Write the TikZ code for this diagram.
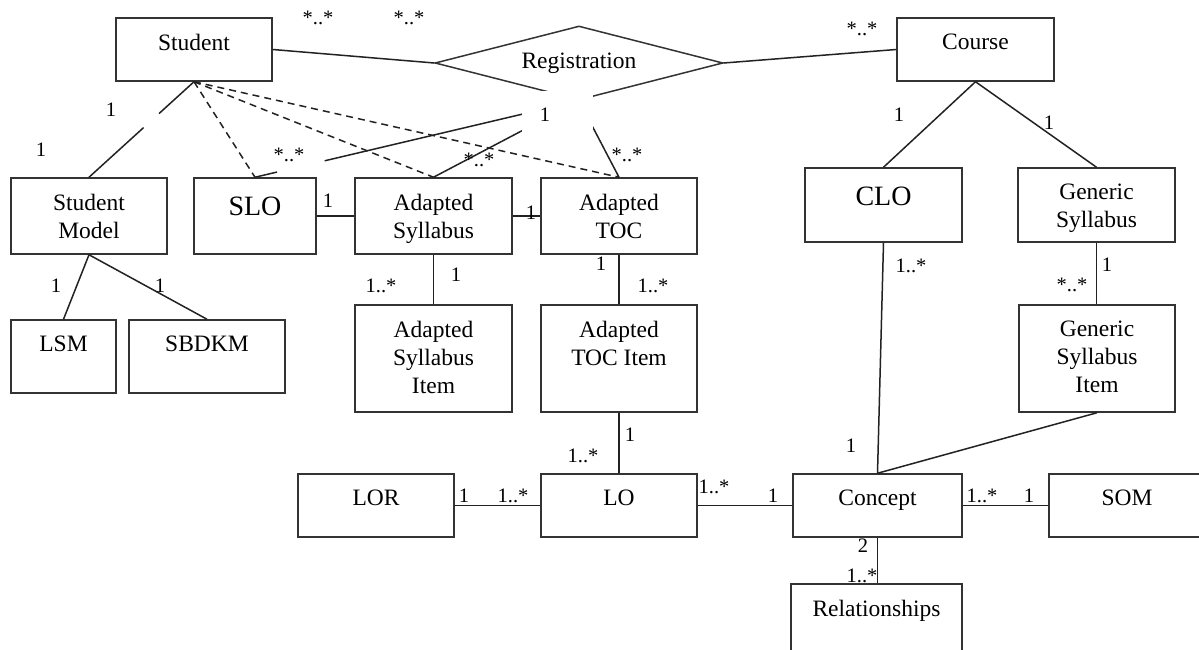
\documentclass[tikz,border=0pt]{standalone}
\usepackage{fontspec}
\setmainfont{Liberation Serif}
\usetikzlibrary{shapes.geometric,calc}
\definecolor{boxc}{HTML}{333333}
\definecolor{linec}{HTML}{222222}
\begin{document}
\begin{tikzpicture}[x=1pt,y=-1pt,
  box/.style 2 args={draw=boxc, line width=1.5pt, rectangle, inner sep=0pt,
    minimum width=#1pt, minimum height=#2pt},
  ttl/.style={anchor=north, yshift=-16.5pt, align=center, inner sep=0pt,
    font=\fontsize{23.5}{28}\selectfont},
  bigttl/.style={anchor=north, yshift=-19.5pt, align=center, inner sep=0pt,
    font=\fontsize{28}{32}\selectfont},
  mult/.style={font=\fontsize{20.5}{22}\selectfont, inner sep=0pt},
  link/.style={line width=1.5pt, draw=linec},
  dep/.style={link, dash pattern=on 7pt off 5pt}]
\useasboundingbox (0,0) rectangle (1199,650);
\clip (0,0) rectangle (1199,650);

% classes
\node[box={156}{63}, label={[ttl]north:Student}] (st) at (194,49.5) {};
\node[box={157}{63}, label={[ttl]north:Course}] (co) at (975.5,49.5) {};
\node[diamond, aspect=3.9, draw=boxc, line width=1.5pt, inner sep=0pt,
  minimum width=288pt, minimum height=74pt,
  font=\fontsize{23.5}{28}\selectfont] (reg) at (579,63) {\raisebox{-2pt}{Registration}};

\node[box={156}{76}, label={[ttl]north:{Student\\Model}}] (sm) at (89,216) {};
\node[box={122}{76}, label={[bigttl]north:SLO}] (slo) at (255,216) {};
\node[box={157}{76}, label={[ttl]north:{Adapted\\Syllabus}}] (as) at (433.5,216) {};
\node[box={156}{76}, label={[ttl]north:{Adapted\\TOC}}] (atoc) at (619,216) {};
\node[box={157}{74}, label={[bigttl]north:CLO}] (clo) at (883.5,205) {};
\node[box={157}{74}, label={[ttl]north:{Generic\\Syllabus}}] (gs) at (1096.5,205) {};

\node[box={105}{73}, label={[ttl]north:LSM}] (lsm) at (63.5,356.5) {};
\node[box={156}{73}, label={[ttl]north:SBDKM}] (sbdkm) at (207,356.5) {};
\node[box={157}{107}, label={[ttl]north:{Adapted\\Syllabus\\Item}}] (asi) at (433.5,358.5) {};
\node[box={156}{107}, label={[ttl]north:{Adapted\\TOC Item}}] (atoci) at (619,358.5) {};
\node[box={156}{107}, label={[ttl]north:{Generic\\Syllabus\\Item}}] (gsi) at (1097,358.5) {};

\node[box={156}{63}, label={[ttl]north:LOR}] (lor) at (376,505.5) {};
\node[box={156}{63}, label={[ttl]north:LO}] (lo) at (619,505.5) {};
\node[box={169}{63}, label={[ttl]north:Concept}] (con) at (877.5,505.5) {};
\node[box={156}{63}, label={[ttl]north:SOM}] (som) at (1127,505.5) {};
\node[box={171}{80}, label={[ttl]north:Relationships}] (rel) at (876.5,624) {};

% associations
\draw[link] (st.east) -- (reg.west);
\draw[link] (reg.east) -- (co.west);
\draw[link] (reg.south) -- ($(reg.south)!0.785!(slo.north)$);
\draw[link] ($(reg.south)!0.932!(slo.north)$) -- (slo.north);
\draw[link] (reg.south) -- (as.north);
\draw[link] (reg.south) -- (atoc.north);
\fill[white] (522,91) rectangle (593,133);

\draw[dep] (st.south) -- (slo.north);
\draw[dep] (st.south) -- (as.north);
\draw[dep] (st.south) -- (atoc.north);

\draw[link] (sm.north) -- ($(sm.north)!0.52!(st.south)$);
\draw[link] ($(sm.north)!0.667!(st.south)$) -- (st.south);
\draw[link] (sm.south) -- (lsm.north);
\draw[link] (sm.south) -- (sbdkm.north);

\draw[link] (slo.east) -- (as.west);
\draw[link] (as.east) -- (atoc.west);
\draw[link] (as.south) -- (asi.north);
\draw[link] (atoc.south) -- (atoci.north);
\draw[link] (atoci.south) -- (lo.north);

\draw[link] (co.south) -- (clo.north);
\draw[link] (co.south) -- (gs.north);
\draw[link] (gs.south) -- (gs.south |- gsi.north);
\draw[link] (clo.south) -- (con.north);
\draw[link] (gsi.south) -- (con.north);

\draw[link] (lor.east) -- (lo.west);
\draw[link] (lo.east) -- (con.west);
\draw[link] (con.east) -- (som.west);
\draw[link] (con.south) -- (con.south |- rel.north);

% multiplicities
\node[mult] (m1) at (318,18) {*..*};
\node[mult] (m2) at (409,18) {*..*};
\node[mult] (m3) at (862,29) {*..*};
\node[mult] (m4) at (111,110) {1};
\node[mult] (m5) at (41,150) {1};
\node[mult] (m6) at (289,155) {*..*};
\node[mult] (m7) at (328,201) {1};
\node[mult] (m8) at (479,160) {*..*};
\node[mult] (m9) at (545,115) {1};
\node[mult] (m10) at (627,155) {*..*};
\node[mult] (m11) at (531,213) {1};
\node[mult] (m12) at (899,115) {1};
\node[mult] (m13) at (1049,123) {1};
\node[mult] (m14) at (56,286) {1};
\node[mult] (m15) at (160,286) {1};
\node[mult] (m16) at (381,286) {1..*};
\node[mult] (m17) at (456,275) {1};
\node[mult] (m18) at (601,264) {1};
\node[mult] (m19) at (653,286) {1..*};
\node[mult] (m20) at (911,266) {1..*};
\node[mult] (m21) at (1107,265) {1};
\node[mult] (m22) at (1072,285) {*..*};
\node[mult] (m23) at (630,435) {1};
\node[mult] (m24) at (583,456) {1..*};
\node[mult] (m25) at (851,446) {1};
\node[mult] (m26) at (464,496) {1};
\node[mult] (m27) at (513,496) {1..*};
\node[mult] (m28) at (714,487) {1..*};
\node[mult] (m29) at (773,496) {1};
\node[mult] (m30) at (982,496) {1..*};
\node[mult] (m31) at (1029,496) {1};
\node[mult] (m32) at (863,546) {2};
\node[mult] (m33) at (862,576) {1..*};
\end{tikzpicture}
\end{document}
